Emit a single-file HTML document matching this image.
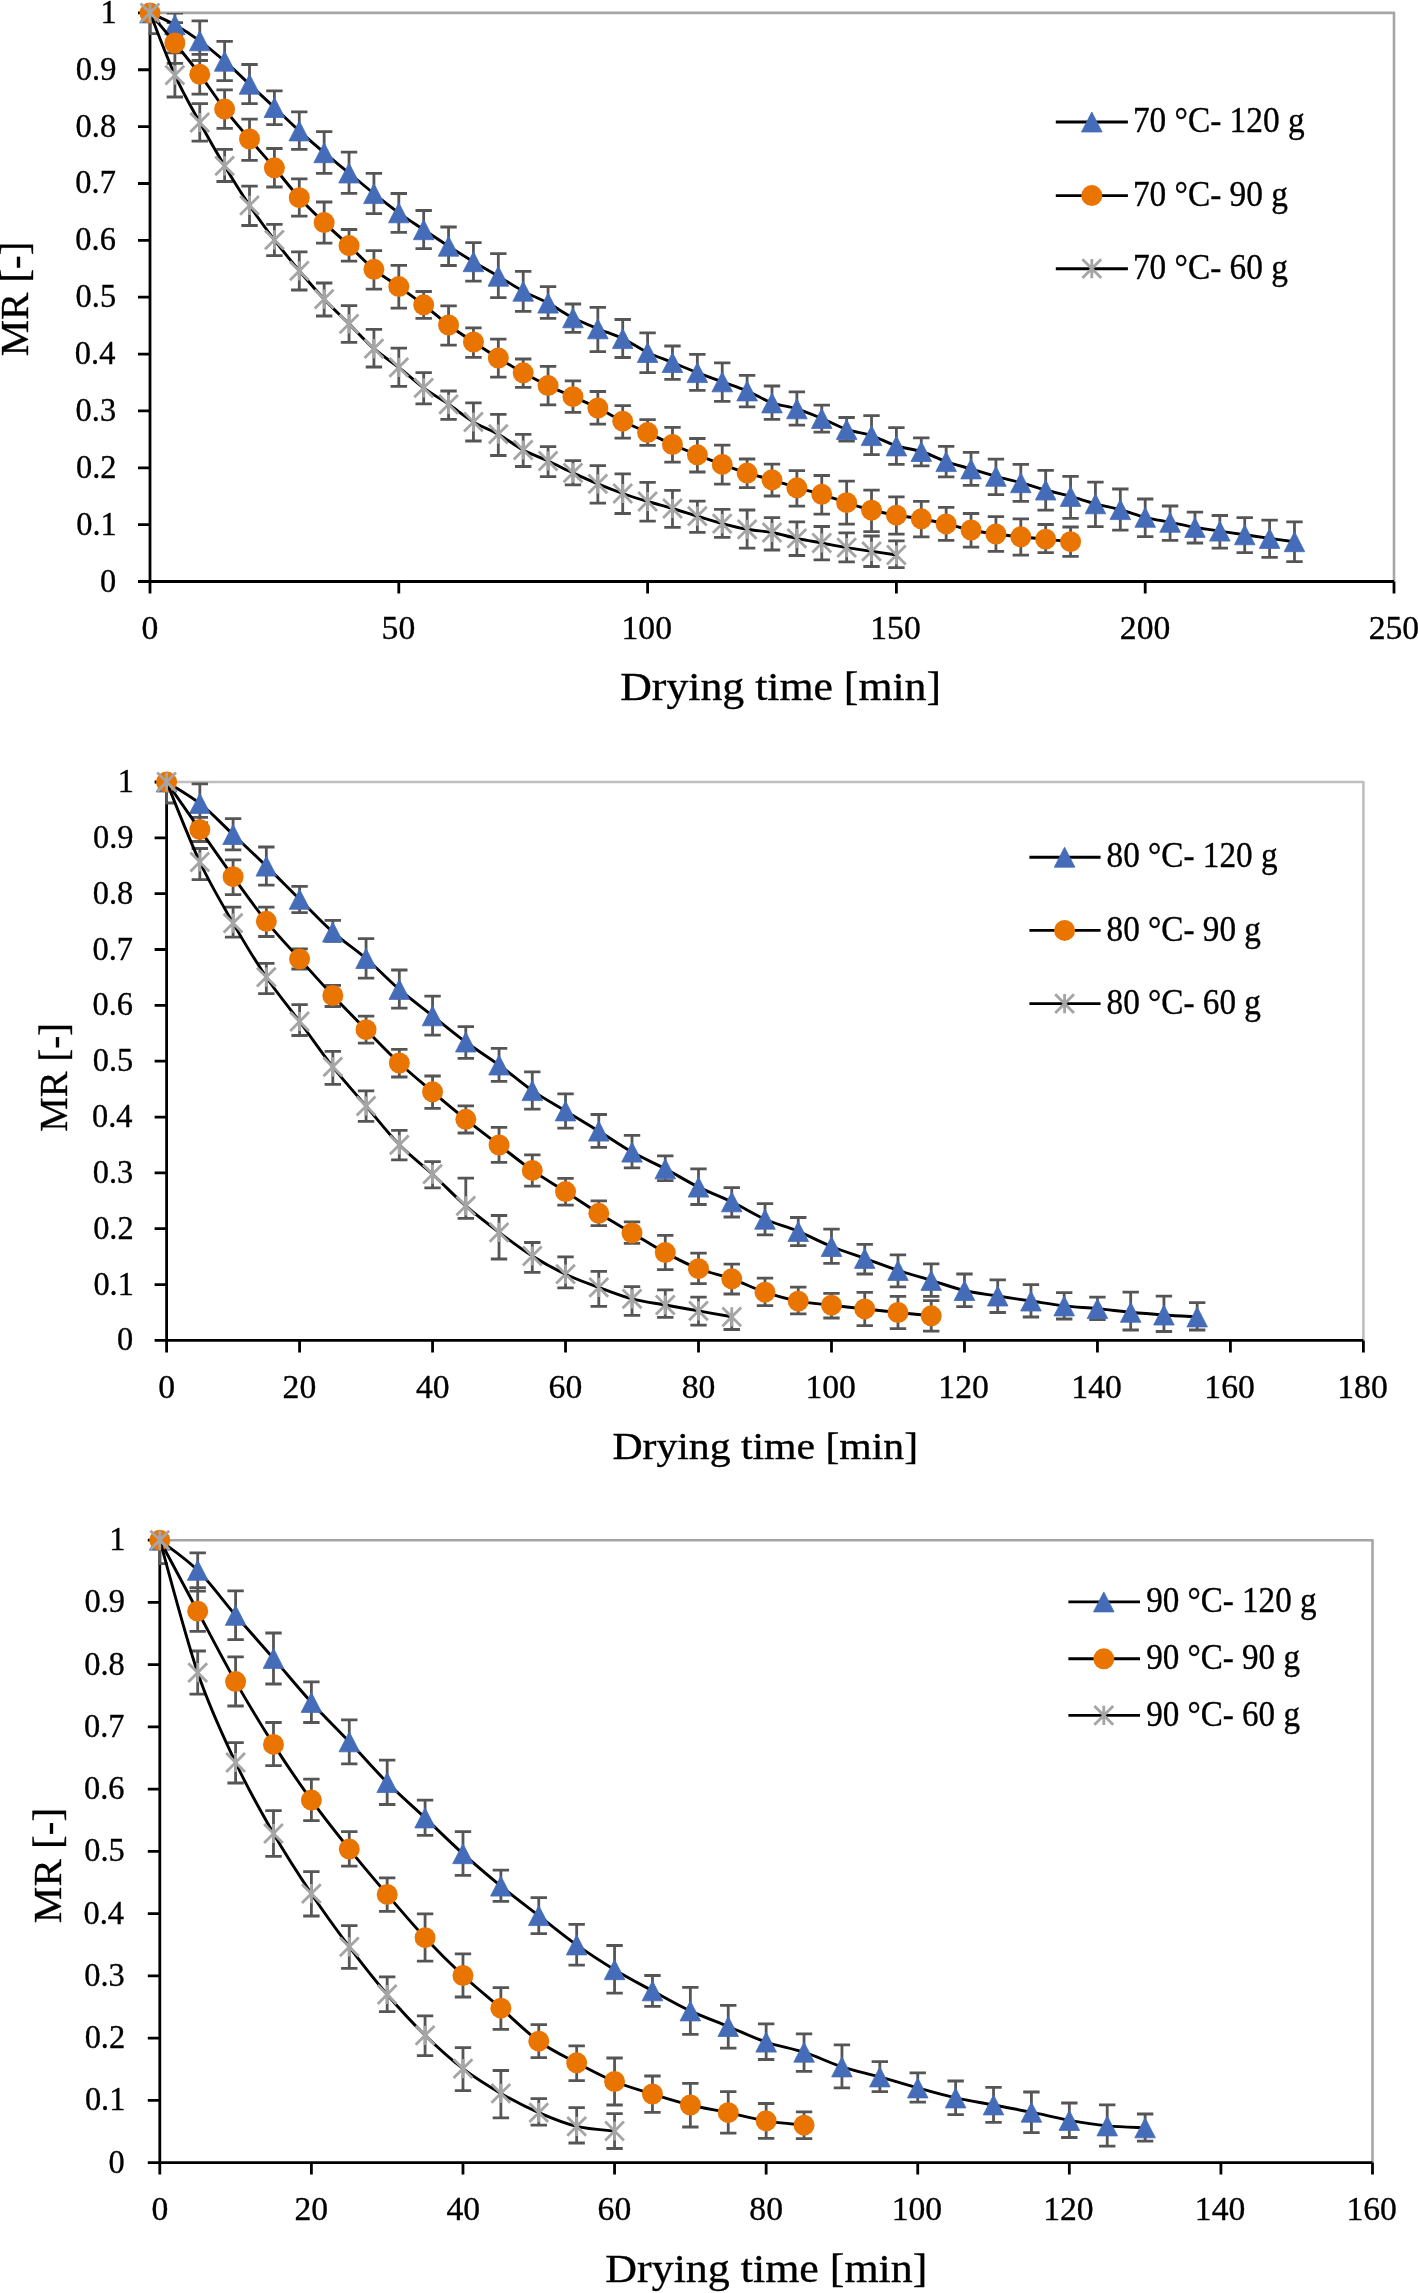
<!DOCTYPE html><html><head><meta charset="utf-8"><style>html,body{margin:0;padding:0;background:#fff;}svg{display:block;will-change:transform;}</style></head><body><svg width="1418" height="2293" viewBox="0 0 1418 2293"><rect width="1418" height="2293" fill="#fff"/><defs><clipPath id="pc0"><rect x="148.4" y="12.9" width="1245.6" height="568.6"/></clipPath></defs><path d="M150 12.9H1394V581.5" fill="none" stroke="#A6A6A6" stroke-width="2.6" stroke-linejoin="round"/><path d="M150 12.9V593.5M138 581.5H1394M138 581.5H150M138 524.64H150M138 467.78H150M138 410.92H150M138 354.06H150M138 297.2H150M138 240.34H150M138 183.48H150M138 126.62H150M138 69.76H150M138 12.9H150M150 581.5V593.5M398.8 581.5V593.5M647.6 581.5V593.5M896.4 581.5V593.5M1145.2 581.5V593.5M1394 581.5V593.5" fill="none" stroke="#000" stroke-width="2.8"/><g font-family="'Liberation Serif', serif" fill="#000" stroke="#000" stroke-width="0.35"><text transform="translate(99.89 591.5) scale(0.953 1)" font-size="34.0">0</text><text transform="translate(76.3 534.64) scale(0.953 1)" font-size="34.0">0.1</text><text transform="translate(76.07 477.78) scale(0.953 1)" font-size="34.0">0.2</text><text transform="translate(75.59 420.92) scale(0.953 1)" font-size="34.0">0.3</text><text transform="translate(74.87 364.06) scale(0.953 1)" font-size="34.0">0.4</text><text transform="translate(75.59 307.2) scale(0.953 1)" font-size="34.0">0.5</text><text transform="translate(75.35 250.34) scale(0.953 1)" font-size="34.0">0.6</text><text transform="translate(75.35 193.48) scale(0.953 1)" font-size="34.0">0.7</text><text transform="translate(75.59 136.62) scale(0.953 1)" font-size="34.0">0.8</text><text transform="translate(75.83 79.76) scale(0.953 1)" font-size="34.0">0.9</text><text transform="translate(100.61 22.9) scale(0.953 1)" font-size="34.0">1</text><text transform="translate(141.59 639.2) scale(0.99 1)" font-size="34.0">0</text><text transform="translate(381.6 639.2) scale(0.99 1)" font-size="34.0">50</text><text transform="translate(621.49 639.2) scale(0.99 1)" font-size="34.0">100</text><text transform="translate(870.29 639.2) scale(0.99 1)" font-size="34.0">150</text><text transform="translate(1119.83 639.2) scale(0.99 1)" font-size="34.0">200</text><text transform="translate(1368.63 639.2) scale(0.99 1)" font-size="34.0">250</text><text transform="translate(620.25 700) scale(1.0779 1)" font-size="40.6">Drying time [min]</text><text transform="translate(27.6 356.36) rotate(-90) scale(1.0073 1)" font-size="40.6">MR [-]</text><text transform="translate(1132.89 132.1) scale(0.9583 1)" font-size="34.8">70 °C- 120 g</text><text transform="translate(1132.89 205.7) scale(0.9583 1)" font-size="34.8">70 °C- 90 g</text><text transform="translate(1132.89 278.8) scale(0.9583 1)" font-size="34.8">70 °C- 60 g</text></g><path clip-path="url(#pc0)" d="M166.68 13H183.08M174.88 13V36.4M166.68 36.4H183.08M191.56 20.9H207.96M199.76 20.9V60.5M191.56 60.5H207.96M216.44 41.3H232.84M224.64 41.3V80.7M216.44 80.7H232.84M241.32 64.5H257.72M249.52 64.5V103.6M241.32 103.6H257.72M266.2 90.8H282.6M274.4 90.8V124.7M266.2 124.7H282.6M291.08 111.8H307.48M299.28 111.8V149.4M291.08 149.4H307.48M315.96 131.6H332.36M324.16 131.6V173.3M315.96 173.3H332.36M340.84 152.2H357.24M349.04 152.2V193.4M340.84 193.4H357.24M365.72 173.3H382.12M373.92 173.3V213.6M365.72 213.6H382.12M390.6 193.5H407M398.8 193.5V232.3M390.6 232.3H407M415.48 210.5H431.88M423.68 210.5V248.6M415.48 248.6H431.88M440.36 227H456.76M448.56 227V265.5M440.36 265.5H456.76M465.24 242.6H481.64M473.44 242.6V281.1M465.24 281.1H481.64M490.12 253.6H506.52M498.32 253.6V297.6M490.12 297.6H506.52M515 271.4H531.4M523.2 271.4V311.4M515 311.4H531.4M539.88 286.6H556.28M548.08 286.6V318.3M539.88 318.3H556.28M564.76 304H581.16M572.96 304V332.4M564.76 332.4H581.16M589.64 307.3H606.04M597.84 307.3V351.7M589.64 351.7H606.04M614.52 319.5H630.92M622.72 319.5V357.5M614.52 357.5H630.92M639.4 332.8H655.8M647.6 332.8V372.6M639.4 372.6H655.8M664.28 346H680.68M672.48 346V379.4M664.28 379.4H680.68M689.16 354.3H705.56M697.36 354.3V390.4M689.16 390.4H705.56M714.04 362.9H730.44M722.24 362.9V401.4M714.04 401.4H730.44M738.92 375.3H755.32M747.12 375.3V406.9M738.92 406.9H755.32M763.8 386H780.2M772 386V419.4M763.8 419.4H780.2M788.68 391.8H805.08M796.88 391.8V425.2M788.68 425.2H805.08M813.56 405.2H829.96M821.76 405.2V432.2M813.56 432.2H829.96M838.44 417.5H854.84M846.64 417.5V441M838.44 441H854.84M863.32 415.7H879.72M871.52 415.7V454.6M863.32 454.6H879.72M888.2 427.7H904.6M896.4 427.7V464.3M888.2 464.3H904.6M913.08 437.8H929.48M921.28 437.8V465.8M913.08 465.8H929.48M937.96 446.4H954.36M946.16 446.4V476.8M937.96 476.8H954.36M962.84 452.4H979.24M971.04 452.4V485.4M962.84 485.4H979.24M987.72 459.2H1004.12M995.92 459.2V494.6M987.72 494.6H1004.12M1012.6 464.3H1029M1020.8 464.3V501.4M1012.6 501.4H1029M1037.48 470.4H1053.88M1045.68 470.4V510.2M1037.48 510.2H1053.88M1062.36 476.3H1078.76M1070.56 476.3V518.4M1062.36 518.4H1078.76M1087.24 482.1H1103.64M1095.44 482.1V526.7M1087.24 526.7H1103.64M1112.12 489H1128.52M1120.32 489V530.1M1112.12 530.1H1128.52M1137 499H1153.4M1145.2 499V536.6M1137 536.6H1153.4M1161.88 506H1178.28M1170.08 506V540.3M1161.88 540.3H1178.28M1186.76 512.2H1203.16M1194.96 512.2V543M1186.76 543H1203.16M1211.64 515.5H1228.04M1219.84 515.5V548.2M1211.64 548.2H1228.04M1236.52 517.7H1252.92M1244.72 517.7V552.6M1236.52 552.6H1252.92M1261.4 520.1H1277.8M1269.6 520.1V557.3M1261.4 557.3H1277.8M1286.28 521.9H1302.68M1294.48 521.9V561.7M1286.28 561.7H1302.68M166.68 22.6H183.08M174.88 22.6V63.4M166.68 63.4H183.08M191.56 54.3H207.96M199.76 54.3V94.1M191.56 94.1H207.96M216.44 89.8H232.84M224.64 89.8V128.4M216.44 128.4H232.84M241.32 119.2H257.72M249.52 119.2V160.4M241.32 160.4H257.72M266.2 148.5H282.6M274.4 148.5V187M266.2 187H282.6M291.08 178.8H307.48M299.28 178.8V216.1M291.08 216.1H307.48M315.96 202H332.36M324.16 202V243.1M315.96 243.1H332.36M340.84 229.5H357.24M349.04 229.5V261.2M340.84 261.2H357.24M365.72 250.6H382.12M373.92 250.6V289.1M365.72 289.1H382.12M390.6 265.3H407M398.8 265.3V308.2M390.6 308.2H407M415.48 291.5H431.88M423.68 291.5V318.3M415.48 318.3H431.88M440.36 305.8H456.76M448.56 305.8V345.1M440.36 345.1H456.76M465.24 327.8H481.64M473.44 327.8V357.3M465.24 357.3H481.64M490.12 339.2H506.52M498.32 339.2V377.2M490.12 377.2H506.52M515 359H531.4M523.2 359V387.4M515 387.4H531.4M539.88 366.4H556.28M548.08 366.4V404.9M539.88 404.9H556.28M564.76 380.9H581.16M572.96 380.9V412.4M564.76 412.4H581.16M589.64 391.5H606.04M597.84 391.5V424.1M589.64 424.1H606.04M614.52 405.6H630.92M622.72 405.6V438.1M614.52 438.1H630.92M639.4 419.7H655.8M647.6 419.7V445.4M639.4 445.4H655.8M664.28 427.3H680.68M672.48 427.3V462.1M664.28 462.1H680.68M689.16 438.5H705.56M697.36 438.5V472M689.16 472H705.56M714.04 445.1H730.44M722.24 445.1V484.1M714.04 484.1H730.44M738.92 459H755.32M747.12 459V487.6M738.92 487.6H755.32M763.8 464.2H780.2M772 464.2V496M763.8 496H780.2M788.68 470.6H805.08M796.88 470.6V506.2M788.68 506.2H805.08M813.56 475.5H829.96M821.76 475.5V514.1M813.56 514.1H829.96M838.44 481.2H854.84M846.64 481.2V524.1M838.44 524.1H854.84M863.32 490.2H879.72M871.52 490.2V531.6M863.32 531.6H879.72M888.2 496.8H904.6M896.4 496.8V534.2M888.2 534.2H904.6M913.08 501.4H929.48M921.28 501.4V536.8M913.08 536.8H929.48M937.96 507.4H954.36M946.16 507.4V540.4M937.96 540.4H954.36M962.84 513.5H979.24M971.04 513.5V547.2M962.84 547.2H979.24M987.72 516.6H1004.12M995.92 516.6V551.4M987.72 551.4H1004.12M1012.6 518.8H1029M1020.8 518.8V555.1M1012.6 555.1H1029M1037.48 524.5H1053.88M1045.68 524.5V552.7M1037.48 552.7H1053.88M1062.36 527H1078.76M1070.56 527V556.4M1062.36 556.4H1078.76M166.68 52.9H183.08M174.88 52.9V97M166.68 97H183.08M191.56 103.6H207.96M199.76 103.6V141.2M191.56 141.2H207.96M216.44 149.4H232.84M224.64 149.4V181.5M216.44 181.5H232.84M241.32 186.1H257.72M249.52 186.1V225.5M241.32 225.5H257.72M266.2 224.3H282.6M274.4 224.3V255.6M266.2 255.6H282.6M291.08 251.9H307.48M299.28 251.9V290M291.08 290H307.48M315.96 283H332.36M324.16 283V316M315.96 316H332.36M340.84 305.6H357.24M349.04 305.6V342.3M340.84 342.3H357.24M365.72 329.4H382.12M373.92 329.4V367M365.72 367H382.12M390.6 348.1H407M398.8 348.1V386.4M390.6 386.4H407M415.48 372.6H431.88M423.68 372.6V403.8M415.48 403.8H431.88M440.36 391H456.76M448.56 391V419.3M440.36 419.3H456.76M465.24 402.8H481.64M473.44 402.8V441M465.24 441H481.64M490.12 414.3H506.52M498.32 414.3V455.5M490.12 455.5H506.52M515 434.4H531.4M523.2 434.4V466.5M515 466.5H531.4M539.88 446.7H556.28M548.08 446.7V476.6M539.88 476.6H556.28M564.76 460.6H581.16M572.96 460.6V484.9M564.76 484.9H581.16M589.64 465.6H606.04M597.84 465.6V503.2M589.64 503.2H606.04M614.52 473.9H630.92M622.72 473.9V513.5M614.52 513.5H630.92M639.4 482.3H655.8M647.6 482.3V521.1M639.4 521.1H655.8M664.28 490.4H680.68M672.48 490.4V527.4M664.28 527.4H680.68M689.16 501.1H705.56M697.36 501.1V532.4M689.16 532.4H705.56M714.04 509.3H730.44M722.24 509.3V537.4M714.04 537.4H730.44M738.92 510H755.32M747.12 510V548.2M738.92 548.2H755.32M763.8 517.7H780.2M772 517.7V550M763.8 550H780.2M788.68 521.9H805.08M796.88 521.9V555.5M788.68 555.5H805.08M813.56 526.5H829.96M821.76 526.5V559.9M813.56 559.9H829.96M838.44 532.9H854.84M846.64 532.9V561.9M838.44 561.9H854.84M863.32 536H879.72M871.52 536V566.5M863.32 566.5H879.72M888.2 540.9H904.6M896.4 540.9V567.6M888.2 567.6H904.6M150 -7.8V33.6M141.8 33.6H158.2" fill="none" stroke="#555555" stroke-width="2.8"/><path d="M150 12.9C154.15 14.87 166.59 20.05 174.88 24.7C183.17 29.35 191.47 34.72 199.76 40.8C208.05 46.88 216.35 53.97 224.64 61.2C232.93 68.43 241.23 76.48 249.52 84.2C257.81 91.92 266.11 99.72 274.4 107.5C282.69 115.28 290.99 123.37 299.28 130.9C307.57 138.43 315.87 145.68 324.16 152.7C332.45 159.72 340.75 166.18 349.04 173C357.33 179.82 365.63 186.97 373.92 193.6C382.21 200.23 390.51 206.78 398.8 212.8C407.09 218.82 415.39 224.13 423.68 229.7C431.97 235.27 440.27 240.87 448.56 246.2C456.85 251.53 465.15 256.7 473.44 261.7C481.73 266.7 490.03 271.28 498.32 276.2C506.61 281.12 514.91 286.72 523.2 291.2C531.49 295.68 539.79 298.67 548.08 303.1C556.37 307.53 564.67 313.52 572.96 317.8C581.25 322.08 589.55 325.33 597.84 328.8C606.13 332.27 614.43 334.65 622.72 338.6C631.01 342.55 639.31 348.52 647.6 352.5C655.89 356.48 664.19 359.15 672.48 362.5C680.77 365.85 689.07 369.38 697.36 372.6C705.65 375.82 713.95 378.75 722.24 381.8C730.53 384.85 738.83 387.38 747.12 390.9C755.41 394.42 763.71 399.92 772 402.9C780.29 405.88 788.59 406.22 796.88 408.8C805.17 411.38 813.47 414.97 821.76 418.4C830.05 421.83 838.35 426.53 846.64 429.4C854.93 432.27 863.23 432.85 871.52 435.6C879.81 438.35 888.11 443.25 896.4 445.9C904.69 448.55 912.99 448.88 921.28 451.5C929.57 454.12 937.87 458.7 946.16 461.6C954.45 464.5 962.75 466.45 971.04 468.9C979.33 471.35 987.63 474 995.92 476.3C1004.21 478.6 1012.51 480.42 1020.8 482.7C1029.09 484.98 1037.39 487.72 1045.68 490C1053.97 492.28 1062.27 494.1 1070.56 496.4C1078.85 498.7 1087.15 501.6 1095.44 503.8C1103.73 506 1112.03 507.35 1120.32 509.6C1128.61 511.85 1136.91 515.18 1145.2 517.3C1153.49 519.42 1161.79 520.62 1170.08 522.3C1178.37 523.98 1186.67 525.93 1194.96 527.4C1203.25 528.87 1211.55 529.87 1219.84 531.1C1228.13 532.33 1236.43 533.58 1244.72 534.8C1253.01 536.02 1261.31 537.25 1269.6 538.4C1277.89 539.55 1290.33 541.15 1294.48 541.7" fill="none" stroke="#000" stroke-width="2.9" stroke-linejoin="round"/><g fill="#446CB8" stroke="#446CB8" stroke-width="0.8" stroke-linejoin="round"><path d="M150 2.9L160.3 22.9L139.7 22.9Z"/><path d="M174.88 14.7L185.18 34.7L164.58 34.7Z"/><path d="M199.76 30.8L210.06 50.8L189.46 50.8Z"/><path d="M224.64 51.2L234.94 71.2L214.34 71.2Z"/><path d="M249.52 74.2L259.82 94.2L239.22 94.2Z"/><path d="M274.4 97.5L284.7 117.5L264.1 117.5Z"/><path d="M299.28 120.9L309.58 140.9L288.98 140.9Z"/><path d="M324.16 142.7L334.46 162.7L313.86 162.7Z"/><path d="M349.04 163L359.34 183L338.74 183Z"/><path d="M373.92 183.6L384.22 203.6L363.62 203.6Z"/><path d="M398.8 202.8L409.1 222.8L388.5 222.8Z"/><path d="M423.68 219.7L433.98 239.7L413.38 239.7Z"/><path d="M448.56 236.2L458.86 256.2L438.26 256.2Z"/><path d="M473.44 251.7L483.74 271.7L463.14 271.7Z"/><path d="M498.32 266.2L508.62 286.2L488.02 286.2Z"/><path d="M523.2 281.2L533.5 301.2L512.9 301.2Z"/><path d="M548.08 293.1L558.38 313.1L537.78 313.1Z"/><path d="M572.96 307.8L583.26 327.8L562.66 327.8Z"/><path d="M597.84 318.8L608.14 338.8L587.54 338.8Z"/><path d="M622.72 328.6L633.02 348.6L612.42 348.6Z"/><path d="M647.6 342.5L657.9 362.5L637.3 362.5Z"/><path d="M672.48 352.5L682.78 372.5L662.18 372.5Z"/><path d="M697.36 362.6L707.66 382.6L687.06 382.6Z"/><path d="M722.24 371.8L732.54 391.8L711.94 391.8Z"/><path d="M747.12 380.9L757.42 400.9L736.82 400.9Z"/><path d="M772 392.9L782.3 412.9L761.7 412.9Z"/><path d="M796.88 398.8L807.18 418.8L786.58 418.8Z"/><path d="M821.76 408.4L832.06 428.4L811.46 428.4Z"/><path d="M846.64 419.4L856.94 439.4L836.34 439.4Z"/><path d="M871.52 425.6L881.82 445.6L861.22 445.6Z"/><path d="M896.4 435.9L906.7 455.9L886.1 455.9Z"/><path d="M921.28 441.5L931.58 461.5L910.98 461.5Z"/><path d="M946.16 451.6L956.46 471.6L935.86 471.6Z"/><path d="M971.04 458.9L981.34 478.9L960.74 478.9Z"/><path d="M995.92 466.3L1006.22 486.3L985.62 486.3Z"/><path d="M1020.8 472.7L1031.1 492.7L1010.5 492.7Z"/><path d="M1045.68 480L1055.98 500L1035.38 500Z"/><path d="M1070.56 486.4L1080.86 506.4L1060.26 506.4Z"/><path d="M1095.44 493.8L1105.74 513.8L1085.14 513.8Z"/><path d="M1120.32 499.6L1130.62 519.6L1110.02 519.6Z"/><path d="M1145.2 507.3L1155.5 527.3L1134.9 527.3Z"/><path d="M1170.08 512.3L1180.38 532.3L1159.78 532.3Z"/><path d="M1194.96 517.4L1205.26 537.4L1184.66 537.4Z"/><path d="M1219.84 521.1L1230.14 541.1L1209.54 541.1Z"/><path d="M1244.72 524.8L1255.02 544.8L1234.42 544.8Z"/><path d="M1269.6 528.4L1279.9 548.4L1259.3 548.4Z"/><path d="M1294.48 531.7L1304.78 551.7L1284.18 551.7Z"/></g><path d="M150 12.9C154.15 17.92 166.59 32.77 174.88 43C183.17 53.23 191.47 63.28 199.76 74.3C208.05 85.32 216.35 98.32 224.64 109.1C232.93 119.88 241.23 129.22 249.52 139C257.81 148.78 266.11 158.02 274.4 167.8C282.69 177.58 290.99 188.57 299.28 197.7C307.57 206.83 315.87 214.62 324.16 222.6C332.45 230.58 340.75 237.82 349.04 245.6C357.33 253.38 365.63 262.47 373.92 269.3C382.21 276.13 390.51 280.68 398.8 286.6C407.09 292.52 415.39 298.4 423.68 304.8C431.97 311.2 440.27 318.8 448.56 325C456.85 331.2 465.15 336.5 473.44 342C481.73 347.5 490.03 352.87 498.32 358C506.61 363.13 514.91 368.2 523.2 372.8C531.49 377.4 539.79 381.62 548.08 385.6C556.37 389.58 564.67 392.97 572.96 396.7C581.25 400.43 589.55 403.92 597.84 408C606.13 412.08 614.43 417.1 622.72 421.2C631.01 425.3 639.31 428.72 647.6 432.6C655.89 436.48 664.19 440.8 672.48 444.5C680.77 448.2 689.07 451.48 697.36 454.8C705.65 458.12 713.95 461.35 722.24 464.4C730.53 467.45 738.83 470.53 747.12 473.1C755.41 475.67 763.71 477.35 772 479.8C780.29 482.25 788.59 485.38 796.88 487.8C805.17 490.22 813.47 491.82 821.76 494.3C830.05 496.78 838.35 500.05 846.64 502.7C854.93 505.35 863.23 508.12 871.52 510.2C879.81 512.28 888.11 513.77 896.4 515.2C904.69 516.63 912.99 517.35 921.28 518.8C929.57 520.25 937.87 522.03 946.16 523.9C954.45 525.77 962.75 528.32 971.04 530C979.33 531.68 987.63 532.87 995.92 534C1004.21 535.13 1012.51 535.93 1020.8 536.8C1029.09 537.67 1037.39 538.38 1045.68 539.2C1053.97 540.02 1066.41 541.28 1070.56 541.7" fill="none" stroke="#000" stroke-width="2.9" stroke-linejoin="round"/><g fill="#EA7400"><circle cx="150" cy="12.9" r="10.5"/><circle cx="174.88" cy="43" r="10.5"/><circle cx="199.76" cy="74.3" r="10.5"/><circle cx="224.64" cy="109.1" r="10.5"/><circle cx="249.52" cy="139" r="10.5"/><circle cx="274.4" cy="167.8" r="10.5"/><circle cx="299.28" cy="197.7" r="10.5"/><circle cx="324.16" cy="222.6" r="10.5"/><circle cx="349.04" cy="245.6" r="10.5"/><circle cx="373.92" cy="269.3" r="10.5"/><circle cx="398.8" cy="286.6" r="10.5"/><circle cx="423.68" cy="304.8" r="10.5"/><circle cx="448.56" cy="325" r="10.5"/><circle cx="473.44" cy="342" r="10.5"/><circle cx="498.32" cy="358" r="10.5"/><circle cx="523.2" cy="372.8" r="10.5"/><circle cx="548.08" cy="385.6" r="10.5"/><circle cx="572.96" cy="396.7" r="10.5"/><circle cx="597.84" cy="408" r="10.5"/><circle cx="622.72" cy="421.2" r="10.5"/><circle cx="647.6" cy="432.6" r="10.5"/><circle cx="672.48" cy="444.5" r="10.5"/><circle cx="697.36" cy="454.8" r="10.5"/><circle cx="722.24" cy="464.4" r="10.5"/><circle cx="747.12" cy="473.1" r="10.5"/><circle cx="772" cy="479.8" r="10.5"/><circle cx="796.88" cy="487.8" r="10.5"/><circle cx="821.76" cy="494.3" r="10.5"/><circle cx="846.64" cy="502.7" r="10.5"/><circle cx="871.52" cy="510.2" r="10.5"/><circle cx="896.4" cy="515.2" r="10.5"/><circle cx="921.28" cy="518.8" r="10.5"/><circle cx="946.16" cy="523.9" r="10.5"/><circle cx="971.04" cy="530" r="10.5"/><circle cx="995.92" cy="534" r="10.5"/><circle cx="1020.8" cy="536.8" r="10.5"/><circle cx="1045.68" cy="539.2" r="10.5"/><circle cx="1070.56" cy="541.7" r="10.5"/></g><path d="M150 12.9C154.15 23.27 166.59 56.83 174.88 75.1C183.17 93.37 191.47 107.37 199.76 122.5C208.05 137.63 216.35 152.08 224.64 165.9C232.93 179.72 241.23 193.07 249.52 205.4C257.81 217.73 266.11 229 274.4 239.9C282.69 250.8 290.99 260.92 299.28 270.8C307.57 280.68 315.87 290.35 324.16 299.2C332.45 308.05 340.75 315.65 349.04 323.9C357.33 332.15 365.63 341.45 373.92 348.7C382.21 355.95 390.51 360.88 398.8 367.4C407.09 373.92 415.39 381.65 423.68 387.8C431.97 393.95 440.27 398.6 448.56 404.3C456.85 410 465.15 417.02 473.44 422C481.73 426.98 490.03 429.53 498.32 434.2C506.61 438.87 514.91 445.53 523.2 450C531.49 454.47 539.79 457.18 548.08 461C556.37 464.82 564.67 469.08 572.96 472.9C581.25 476.72 589.55 480.47 597.84 483.9C606.13 487.33 614.43 490.57 622.72 493.5C631.01 496.43 639.31 499 647.6 501.5C655.89 504 664.19 506.05 672.48 508.5C680.77 510.95 689.07 513.68 697.36 516.2C705.65 518.72 713.95 521.42 722.24 523.6C730.53 525.78 738.83 527.82 747.12 529.3C755.41 530.78 763.71 530.98 772 532.5C780.29 534.02 788.59 536.65 796.88 538.4C805.17 540.15 813.47 541.47 821.76 543C830.05 544.53 838.35 546.22 846.64 547.6C854.93 548.98 863.23 550.07 871.52 551.3C879.81 552.53 892.25 554.38 896.4 555" fill="none" stroke="#000" stroke-width="2.9" stroke-linejoin="round"/><path d="M140.6 3.5L159.4 22.3M140.6 22.3L159.4 3.5M150 3.3L150 22.5M165.48 65.7L184.28 84.5M165.48 84.5L184.28 65.7M174.88 65.5L174.88 84.7M190.36 113.1L209.16 131.9M190.36 131.9L209.16 113.1M199.76 112.9L199.76 132.1M215.24 156.5L234.04 175.3M215.24 175.3L234.04 156.5M224.64 156.3L224.64 175.5M240.12 196L258.92 214.8M240.12 214.8L258.92 196M249.52 195.8L249.52 215M265 230.5L283.8 249.3M265 249.3L283.8 230.5M274.4 230.3L274.4 249.5M289.88 261.4L308.68 280.2M289.88 280.2L308.68 261.4M299.28 261.2L299.28 280.4M314.76 289.8L333.56 308.6M314.76 308.6L333.56 289.8M324.16 289.6L324.16 308.8M339.64 314.5L358.44 333.3M339.64 333.3L358.44 314.5M349.04 314.3L349.04 333.5M364.52 339.3L383.32 358.1M364.52 358.1L383.32 339.3M373.92 339.1L373.92 358.3M389.4 358L408.2 376.8M389.4 376.8L408.2 358M398.8 357.8L398.8 377M414.28 378.4L433.08 397.2M414.28 397.2L433.08 378.4M423.68 378.2L423.68 397.4M439.16 394.9L457.96 413.7M439.16 413.7L457.96 394.9M448.56 394.7L448.56 413.9M464.04 412.6L482.84 431.4M464.04 431.4L482.84 412.6M473.44 412.4L473.44 431.6M488.92 424.8L507.72 443.6M488.92 443.6L507.72 424.8M498.32 424.6L498.32 443.8M513.8 440.6L532.6 459.4M513.8 459.4L532.6 440.6M523.2 440.4L523.2 459.6M538.68 451.6L557.48 470.4M538.68 470.4L557.48 451.6M548.08 451.4L548.08 470.6M563.56 463.5L582.36 482.3M563.56 482.3L582.36 463.5M572.96 463.3L572.96 482.5M588.44 474.5L607.24 493.3M588.44 493.3L607.24 474.5M597.84 474.3L597.84 493.5M613.32 484.1L632.12 502.9M613.32 502.9L632.12 484.1M622.72 483.9L622.72 503.1M638.2 492.1L657 510.9M638.2 510.9L657 492.1M647.6 491.9L647.6 511.1M663.08 499.1L681.88 517.9M663.08 517.9L681.88 499.1M672.48 498.9L672.48 518.1M687.96 506.8L706.76 525.6M687.96 525.6L706.76 506.8M697.36 506.6L697.36 525.8M712.84 514.2L731.64 533M712.84 533L731.64 514.2M722.24 514L722.24 533.2M737.72 519.9L756.52 538.7M737.72 538.7L756.52 519.9M747.12 519.7L747.12 538.9M762.6 523.1L781.4 541.9M762.6 541.9L781.4 523.1M772 522.9L772 542.1M787.48 529L806.28 547.8M787.48 547.8L806.28 529M796.88 528.8L796.88 548M812.36 533.6L831.16 552.4M812.36 552.4L831.16 533.6M821.76 533.4L821.76 552.6M837.24 538.2L856.04 557M837.24 557L856.04 538.2M846.64 538L846.64 557.2M862.12 541.9L880.92 560.7M862.12 560.7L880.92 541.9M871.52 541.7L871.52 560.9M887 545.6L905.8 564.4M887 564.4L905.8 545.6M896.4 545.4L896.4 564.6" fill="none" stroke="#A5A5A5" stroke-width="2.85"/><path d="M1055.8 122H1127.9" stroke="#000" stroke-width="2.9"/><g fill="#446CB8" stroke="#446CB8" stroke-width="0.8" stroke-linejoin="round"><path d="M1091.8 112L1102.1 132L1081.5 132Z"/></g><path d="M1055.8 195.6H1127.9" stroke="#000" stroke-width="2.9"/><g fill="#EA7400"><circle cx="1091.8" cy="195.6" r="10.5"/></g><path d="M1055.8 268.7H1127.9" stroke="#000" stroke-width="2.9"/><path d="M1082.4 259.3L1101.2 278.1M1082.4 278.1L1101.2 259.3M1091.8 259.1L1091.8 278.3" fill="none" stroke="#A5A5A5" stroke-width="2.85"/><defs><clipPath id="pc1"><rect x="165" y="782" width="1198.4" height="558.4"/></clipPath></defs><path d="M166.6 782H1363.4V1340.4" fill="none" stroke="#BFBFBF" stroke-width="2.6" stroke-linejoin="round"/><path d="M166.6 782V1352.4M154.6 1340.4H1363.4M154.6 1340.4H166.6M154.6 1284.56H166.6M154.6 1228.72H166.6M154.6 1172.88H166.6M154.6 1117.04H166.6M154.6 1061.2H166.6M154.6 1005.36H166.6M154.6 949.52H166.6M154.6 893.68H166.6M154.6 837.84H166.6M154.6 782H166.6M166.6 1340.4V1352.4M299.58 1340.4V1352.4M432.56 1340.4V1352.4M565.53 1340.4V1352.4M698.51 1340.4V1352.4M831.49 1340.4V1352.4M964.47 1340.4V1352.4M1097.44 1340.4V1352.4M1230.42 1340.4V1352.4M1363.4 1340.4V1352.4" fill="none" stroke="#000" stroke-width="2.8"/><g font-family="'Liberation Serif', serif" fill="#000" stroke="#000" stroke-width="0.35"><text transform="translate(116.99 1350.4) scale(0.953 1)" font-size="34.0">0</text><text transform="translate(93.4 1294.56) scale(0.953 1)" font-size="34.0">0.1</text><text transform="translate(93.17 1238.72) scale(0.953 1)" font-size="34.0">0.2</text><text transform="translate(92.69 1182.88) scale(0.953 1)" font-size="34.0">0.3</text><text transform="translate(91.97 1127.04) scale(0.953 1)" font-size="34.0">0.4</text><text transform="translate(92.69 1071.2) scale(0.953 1)" font-size="34.0">0.5</text><text transform="translate(92.45 1015.36) scale(0.953 1)" font-size="34.0">0.6</text><text transform="translate(92.45 959.52) scale(0.953 1)" font-size="34.0">0.7</text><text transform="translate(92.69 903.68) scale(0.953 1)" font-size="34.0">0.8</text><text transform="translate(92.93 847.84) scale(0.953 1)" font-size="34.0">0.9</text><text transform="translate(117.7 792) scale(0.953 1)" font-size="34.0">1</text><text transform="translate(158.19 1398) scale(0.99 1)" font-size="34.0">0</text><text transform="translate(282.62 1398) scale(0.99 1)" font-size="34.0">20</text><text transform="translate(415.97 1398) scale(0.99 1)" font-size="34.0">40</text><text transform="translate(548.58 1398) scale(0.99 1)" font-size="34.0">60</text><text transform="translate(681.68 1398) scale(0.99 1)" font-size="34.0">80</text><text transform="translate(805.38 1398) scale(0.99 1)" font-size="34.0">100</text><text transform="translate(938.36 1398) scale(0.99 1)" font-size="34.0">120</text><text transform="translate(1071.33 1398) scale(0.99 1)" font-size="34.0">140</text><text transform="translate(1204.31 1398) scale(0.99 1)" font-size="34.0">160</text><text transform="translate(1337.29 1398) scale(0.99 1)" font-size="34.0">180</text><text transform="translate(612.4 1458.5) scale(1.0977 1)" font-size="38.0">Drying time [min]</text><text transform="translate(66.6 1131.71) rotate(-90) scale(0.9694 1)" font-size="40.0">MR [-]</text><text transform="translate(1106.61 867.3) scale(0.9540 1)" font-size="34.8">80 °C- 120 g</text><text transform="translate(1106.61 940.5) scale(0.9540 1)" font-size="34.8">80 °C- 90 g</text><text transform="translate(1106.61 1013.7) scale(0.9540 1)" font-size="34.8">80 °C- 60 g</text></g><path clip-path="url(#pc1)" d="M191.64 783.8H208.04M199.84 783.8V823M191.64 823H208.04M224.89 818.6H241.29M233.09 818.6V849.8M224.89 849.8H241.29M258.13 847H274.53M266.33 847V885.1M258.13 885.1H274.53M291.38 886.4H307.78M299.58 886.4V912.7M291.38 912.7H307.78M324.62 920.4H341.02M332.82 920.4V941.4M324.62 941.4H341.02M357.87 938.7H374.27M366.07 938.7V978.1M357.87 978.1H374.27M391.11 970H407.51M399.31 970V1008.2M391.11 1008.2H407.51M424.36 996.1H440.76M432.56 996.1V1035.1M424.36 1035.1H440.76M457.6 1026.7H474M465.8 1026.7V1058.4M457.6 1058.4H474M490.84 1048.4H507.24M499.04 1048.4V1081.4M490.84 1081.4H507.24M524.09 1071.8H540.49M532.29 1071.8V1109.2M524.09 1109.2H540.49M557.33 1093.8H573.73M565.53 1093.8V1128.1M557.33 1128.1H573.73M590.58 1114.5H606.98M598.78 1114.5V1147.3M590.58 1147.3H606.98M623.82 1135.3H640.22M632.02 1135.3V1167.8M623.82 1167.8H640.22M657.07 1155.9H673.47M665.27 1155.9V1180.7M657.07 1180.7H673.47M690.31 1168.8H706.71M698.51 1168.8V1204.5M690.31 1204.5H706.71M723.56 1187.6H739.96M731.76 1187.6V1217M723.56 1217H739.96M756.8 1203.6H773.2M765 1203.6V1234.8M756.8 1234.8H773.2M790.04 1217.5H806.44M798.24 1217.5V1245.7M790.04 1245.7H806.44M823.29 1229.1H839.69M831.49 1229.1V1263.4M823.29 1263.4H839.69M856.53 1244.3H872.93M864.73 1244.3V1274M856.53 1274H872.93M889.78 1254.8H906.18M897.98 1254.8V1286.9M889.78 1286.9H906.18M923.02 1263.9H939.42M931.22 1263.9V1296.4M923.02 1296.4H939.42M956.27 1274H972.67M964.47 1274V1306.7M956.27 1306.7H972.67M989.51 1279.9H1005.91M997.71 1279.9V1312.5M989.51 1312.5H1005.91M1022.76 1284.7H1039.16M1030.96 1284.7V1317M1022.76 1317H1039.16M1056 1292.7H1072.4M1064.2 1292.7V1319M1056 1319H1072.4M1089.24 1297.1H1105.64M1097.44 1297.1V1319.6M1089.24 1319.6H1105.64M1122.49 1292.1H1138.89M1130.69 1292.1V1330M1122.49 1330H1138.89M1155.73 1296.1H1172.13M1163.93 1296.1V1331.5M1155.73 1331.5H1172.13M1188.98 1302.6H1205.38M1197.18 1302.6V1330M1188.98 1330H1205.38M191.64 817.3H208.04M199.84 817.3V841.5M191.64 841.5H208.04M224.89 859.8H241.29M233.09 859.8V894.7M224.89 894.7H241.29M258.13 907.2H274.53M266.33 907.2V936.5M258.13 936.5H274.53M291.38 948.8H307.78M299.58 948.8V969M291.38 969H307.78M324.62 985.4H341.02M332.82 985.4V1006.5M324.62 1006.5H341.02M357.87 1016.1H374.27M366.07 1016.1V1043.1M357.87 1043.1H374.27M391.11 1049.4H407.51M399.31 1049.4V1077M391.11 1077H407.51M424.36 1076H440.76M432.56 1076V1108.3M424.36 1108.3H440.76M457.6 1105.8H474M465.8 1105.8V1133M457.6 1133H474M490.84 1127.3H507.24M499.04 1127.3V1162.3M490.84 1162.3H507.24M524.09 1154.8H540.49M532.29 1154.8V1186.1M524.09 1186.1H540.49M557.33 1178.3H573.73M565.53 1178.3V1205.1M557.33 1205.1H573.73M590.58 1200.8H606.98M598.78 1200.8V1225.6M590.58 1225.6H606.98M623.82 1221.9H640.22M632.02 1221.9V1243.4M623.82 1243.4H640.22M657.07 1235.3H673.47M665.27 1235.3V1269.6M657.07 1269.6H673.47M690.31 1253.1H706.71M698.51 1253.1V1283.7M690.31 1283.7H706.71M723.56 1264.1H739.96M731.76 1264.1V1294M723.56 1294H739.96M756.8 1278.2H773.2M765 1278.2V1305.7M756.8 1305.7H773.2M790.04 1287.1H806.44M798.24 1287.1V1313.8M790.04 1313.8H806.44M823.29 1293.3H839.69M831.49 1293.3V1318M823.29 1318H839.69M856.53 1292.4H872.93M864.73 1292.4V1325.7M856.53 1325.7H872.93M889.78 1296.4H906.18M897.98 1296.4V1328.7M889.78 1328.7H906.18M923.02 1300.6H939.42M931.22 1300.6V1331.2M923.02 1331.2H939.42M191.64 848.5H208.04M199.84 848.5V879.6M191.64 879.6H208.04M224.89 907.2H241.29M233.09 907.2V937.2M224.89 937.2H241.29M258.13 963.4H274.53M266.33 963.4V993.7M258.13 993.7H274.53M291.38 1004.6H307.78M299.58 1004.6V1035.5M291.38 1035.5H307.78M324.62 1051.3H341.02M332.82 1051.3V1084.3M324.62 1084.3H341.02M357.87 1090.8H374.27M366.07 1090.8V1121.4M357.87 1121.4H374.27M391.11 1130.3H407.51M399.31 1130.3V1159.9M391.11 1159.9H407.51M424.36 1161.7H440.76M432.56 1161.7V1187.9M424.36 1187.9H440.76M457.6 1178.1H474M465.8 1178.1V1218.4M457.6 1218.4H474M490.84 1215.5H507.24M499.04 1215.5V1259M490.84 1259H507.24M524.09 1242.5H540.49M532.29 1242.5V1272.3M524.09 1272.3H540.49M557.33 1256.8H573.73M565.53 1256.8V1287.9M557.33 1287.9H573.73M590.58 1271.4H606.98M598.78 1271.4V1306.3M590.58 1306.3H606.98M623.82 1286.7H640.22M632.02 1286.7V1315.4M623.82 1315.4H640.22M657.07 1289.8H673.47M665.27 1289.8V1317.3M657.07 1317.3H673.47M690.31 1297.1H706.71M698.51 1297.1V1325.2M690.31 1325.2H706.71M731.76 1316.8V1329.5M723.56 1329.5H739.96M166.6 761V803M158.4 803H174.8" fill="none" stroke="#555555" stroke-width="2.8"/><path d="M166.6 782C172.14 785.57 188.76 794.65 199.84 803.4C210.93 812.15 222.01 824.05 233.09 834.5C244.17 844.95 255.25 855.3 266.33 866.1C277.41 876.9 288.5 888.3 299.58 899.3C310.66 910.3 321.74 922.23 332.82 932.1C343.9 941.97 354.99 948.95 366.07 958.5C377.15 968.05 388.23 979.85 399.31 989.4C410.39 998.95 421.47 1007.03 432.56 1015.8C443.64 1024.57 454.72 1033.8 465.8 1042C476.88 1050.2 487.96 1056.9 499.04 1065C510.13 1073.1 521.21 1082.95 532.29 1090.6C543.37 1098.25 554.45 1104.15 565.53 1110.9C576.61 1117.65 587.7 1124.23 598.78 1131.1C609.86 1137.97 620.94 1145.82 632.02 1152.1C643.1 1158.38 654.19 1162.97 665.27 1168.8C676.35 1174.63 687.43 1181.6 698.51 1187.1C709.59 1192.6 720.67 1196.45 731.76 1201.8C742.84 1207.15 753.92 1214.27 765 1219.2C776.08 1224.13 787.16 1226.85 798.24 1231.4C809.33 1235.95 820.41 1242 831.49 1246.5C842.57 1251 853.65 1254.42 864.73 1258.4C875.81 1262.38 886.9 1266.73 897.98 1270.4C909.06 1274.07 920.14 1277.05 931.22 1280.4C942.3 1283.75 953.39 1287.9 964.47 1290.5C975.55 1293.1 986.63 1294.25 997.71 1296C1008.79 1297.75 1019.87 1299.35 1030.96 1301C1042.04 1302.65 1053.12 1304.63 1064.2 1305.9C1075.28 1307.17 1086.36 1307.53 1097.44 1308.6C1108.53 1309.67 1119.61 1311.23 1130.69 1312.3C1141.77 1313.37 1152.85 1314.23 1163.93 1315C1175.01 1315.77 1191.64 1316.58 1197.18 1316.9" fill="none" stroke="#000" stroke-width="2.9" stroke-linejoin="round"/><g fill="#446CB8" stroke="#446CB8" stroke-width="0.8" stroke-linejoin="round"><path d="M166.6 772L176.9 792L156.3 792Z"/><path d="M199.84 793.4L210.14 813.4L189.54 813.4Z"/><path d="M233.09 824.5L243.39 844.5L222.79 844.5Z"/><path d="M266.33 856.1L276.63 876.1L256.03 876.1Z"/><path d="M299.58 889.3L309.88 909.3L289.28 909.3Z"/><path d="M332.82 922.1L343.12 942.1L322.52 942.1Z"/><path d="M366.07 948.5L376.37 968.5L355.77 968.5Z"/><path d="M399.31 979.4L409.61 999.4L389.01 999.4Z"/><path d="M432.56 1005.8L442.86 1025.8L422.26 1025.8Z"/><path d="M465.8 1032L476.1 1052L455.5 1052Z"/><path d="M499.04 1055L509.34 1075L488.74 1075Z"/><path d="M532.29 1080.6L542.59 1100.6L521.99 1100.6Z"/><path d="M565.53 1100.9L575.83 1120.9L555.23 1120.9Z"/><path d="M598.78 1121.1L609.08 1141.1L588.48 1141.1Z"/><path d="M632.02 1142.1L642.32 1162.1L621.72 1162.1Z"/><path d="M665.27 1158.8L675.57 1178.8L654.97 1178.8Z"/><path d="M698.51 1177.1L708.81 1197.1L688.21 1197.1Z"/><path d="M731.76 1191.8L742.06 1211.8L721.46 1211.8Z"/><path d="M765 1209.2L775.3 1229.2L754.7 1229.2Z"/><path d="M798.24 1221.4L808.54 1241.4L787.94 1241.4Z"/><path d="M831.49 1236.5L841.79 1256.5L821.19 1256.5Z"/><path d="M864.73 1248.4L875.03 1268.4L854.43 1268.4Z"/><path d="M897.98 1260.4L908.28 1280.4L887.68 1280.4Z"/><path d="M931.22 1270.4L941.52 1290.4L920.92 1290.4Z"/><path d="M964.47 1280.5L974.77 1300.5L954.17 1300.5Z"/><path d="M997.71 1286L1008.01 1306L987.41 1306Z"/><path d="M1030.96 1291L1041.26 1311L1020.66 1311Z"/><path d="M1064.2 1295.9L1074.5 1315.9L1053.9 1315.9Z"/><path d="M1097.44 1298.6L1107.74 1318.6L1087.14 1318.6Z"/><path d="M1130.69 1302.3L1140.99 1322.3L1120.39 1322.3Z"/><path d="M1163.93 1305L1174.23 1325L1153.63 1325Z"/><path d="M1197.18 1306.9L1207.48 1326.9L1186.88 1326.9Z"/></g><path d="M166.6 782C172.14 789.93 188.76 813.82 199.84 829.6C210.93 845.38 222.01 861.42 233.09 876.7C244.17 891.98 255.25 907.6 266.33 921.3C277.41 935 288.5 946.53 299.58 958.9C310.66 971.27 321.74 983.7 332.82 995.5C343.9 1007.3 354.99 1018.45 366.07 1029.7C377.15 1040.95 388.23 1052.65 399.31 1063C410.39 1073.35 421.47 1082.42 432.56 1091.8C443.64 1101.18 454.72 1110.43 465.8 1119.3C476.88 1128.17 487.96 1136.48 499.04 1145C510.13 1153.52 521.21 1162.63 532.29 1170.4C543.37 1178.17 554.45 1184.45 565.53 1191.6C576.61 1198.75 587.7 1206.42 598.78 1213.3C609.86 1220.18 620.94 1226.35 632.02 1232.9C643.1 1239.45 654.19 1246.63 665.27 1252.6C676.35 1258.57 687.43 1264.33 698.51 1268.7C709.59 1273.07 720.67 1274.88 731.76 1278.8C742.84 1282.72 753.92 1288.47 765 1292.2C776.08 1295.93 787.16 1299.03 798.24 1301.2C809.33 1303.37 820.41 1303.92 831.49 1305.2C842.57 1306.48 853.65 1307.68 864.73 1308.9C875.81 1310.12 886.9 1311.35 897.98 1312.5C909.06 1313.65 925.68 1315.25 931.22 1315.8" fill="none" stroke="#000" stroke-width="2.9" stroke-linejoin="round"/><g fill="#EA7400"><circle cx="166.6" cy="782" r="10.5"/><circle cx="199.84" cy="829.6" r="10.5"/><circle cx="233.09" cy="876.7" r="10.5"/><circle cx="266.33" cy="921.3" r="10.5"/><circle cx="299.58" cy="958.9" r="10.5"/><circle cx="332.82" cy="995.5" r="10.5"/><circle cx="366.07" cy="1029.7" r="10.5"/><circle cx="399.31" cy="1063" r="10.5"/><circle cx="432.56" cy="1091.8" r="10.5"/><circle cx="465.8" cy="1119.3" r="10.5"/><circle cx="499.04" cy="1145" r="10.5"/><circle cx="532.29" cy="1170.4" r="10.5"/><circle cx="565.53" cy="1191.6" r="10.5"/><circle cx="598.78" cy="1213.3" r="10.5"/><circle cx="632.02" cy="1232.9" r="10.5"/><circle cx="665.27" cy="1252.6" r="10.5"/><circle cx="698.51" cy="1268.7" r="10.5"/><circle cx="731.76" cy="1278.8" r="10.5"/><circle cx="765" cy="1292.2" r="10.5"/><circle cx="798.24" cy="1301.2" r="10.5"/><circle cx="831.49" cy="1305.2" r="10.5"/><circle cx="864.73" cy="1308.9" r="10.5"/><circle cx="897.98" cy="1312.5" r="10.5"/><circle cx="931.22" cy="1315.8" r="10.5"/></g><path d="M166.6 782C172.14 795.33 188.76 838.48 199.84 862C210.93 885.52 222.01 903.9 233.09 923.1C244.17 942.3 255.25 960.8 266.33 977.2C277.41 993.6 288.5 1006.55 299.58 1021.5C310.66 1036.45 321.74 1052.82 332.82 1066.9C343.9 1080.98 354.99 1093.02 366.07 1106C377.15 1118.98 388.23 1133.43 399.31 1144.8C410.39 1156.17 421.47 1164.02 432.56 1174.2C443.64 1184.38 454.72 1196.22 465.8 1205.9C476.88 1215.58 487.96 1223.95 499.04 1232.3C510.13 1240.65 521.21 1249.02 532.29 1256C543.37 1262.98 554.45 1268.97 565.53 1274.2C576.61 1279.43 587.7 1283.28 598.78 1287.4C609.86 1291.52 620.94 1295.97 632.02 1298.9C643.1 1301.83 654.19 1303 665.27 1305C676.35 1307 687.43 1308.93 698.51 1310.9C709.59 1312.87 726.21 1315.82 731.76 1316.8" fill="none" stroke="#000" stroke-width="2.9" stroke-linejoin="round"/><path d="M157.2 772.6L176 791.4M157.2 791.4L176 772.6M166.6 772.4L166.6 791.6M190.44 852.6L209.24 871.4M190.44 871.4L209.24 852.6M199.84 852.4L199.84 871.6M223.69 913.7L242.49 932.5M223.69 932.5L242.49 913.7M233.09 913.5L233.09 932.7M256.93 967.8L275.73 986.6M256.93 986.6L275.73 967.8M266.33 967.6L266.33 986.8M290.18 1012.1L308.98 1030.9M290.18 1030.9L308.98 1012.1M299.58 1011.9L299.58 1031.1M323.42 1057.5L342.22 1076.3M323.42 1076.3L342.22 1057.5M332.82 1057.3L332.82 1076.5M356.67 1096.6L375.47 1115.4M356.67 1115.4L375.47 1096.6M366.07 1096.4L366.07 1115.6M389.91 1135.4L408.71 1154.2M389.91 1154.2L408.71 1135.4M399.31 1135.2L399.31 1154.4M423.16 1164.8L441.96 1183.6M423.16 1183.6L441.96 1164.8M432.56 1164.6L432.56 1183.8M456.4 1196.5L475.2 1215.3M456.4 1215.3L475.2 1196.5M465.8 1196.3L465.8 1215.5M489.64 1222.9L508.44 1241.7M489.64 1241.7L508.44 1222.9M499.04 1222.7L499.04 1241.9M522.89 1246.6L541.69 1265.4M522.89 1265.4L541.69 1246.6M532.29 1246.4L532.29 1265.6M556.13 1264.8L574.93 1283.6M556.13 1283.6L574.93 1264.8M565.53 1264.6L565.53 1283.8M589.38 1278L608.18 1296.8M589.38 1296.8L608.18 1278M598.78 1277.8L598.78 1297M622.62 1289.5L641.42 1308.3M622.62 1308.3L641.42 1289.5M632.02 1289.3L632.02 1308.5M655.87 1295.6L674.67 1314.4M655.87 1314.4L674.67 1295.6M665.27 1295.4L665.27 1314.6M689.11 1301.5L707.91 1320.3M689.11 1320.3L707.91 1301.5M698.51 1301.3L698.51 1320.5M722.36 1307.4L741.16 1326.2M722.36 1326.2L741.16 1307.4M731.76 1307.2L731.76 1326.4" fill="none" stroke="#A5A5A5" stroke-width="2.85"/><path d="M1029.4 857.2H1100.6" stroke="#000" stroke-width="2.9"/><g fill="#446CB8" stroke="#446CB8" stroke-width="0.8" stroke-linejoin="round"><path d="M1064.6 847.2L1074.9 867.2L1054.3 867.2Z"/></g><path d="M1029.4 930.4H1100.6" stroke="#000" stroke-width="2.9"/><g fill="#EA7400"><circle cx="1064.6" cy="930.4" r="10.5"/></g><path d="M1029.4 1003.6H1100.6" stroke="#000" stroke-width="2.9"/><path d="M1055.2 994.2L1074 1013M1055.2 1013L1074 994.2M1064.6 994L1064.6 1013.2" fill="none" stroke="#A5A5A5" stroke-width="2.85"/><defs><clipPath id="pc2"><rect x="158.2" y="1540.2" width="1214.3" height="622.4"/></clipPath></defs><path d="M159.8 1540.2H1372.5V2162.6" fill="none" stroke="#A6A6A6" stroke-width="2.6" stroke-linejoin="round"/><path d="M159.8 1540.2V2174.6M147.8 2162.6H1372.5M147.8 2162.6H159.8M147.8 2100.36H159.8M147.8 2038.12H159.8M147.8 1975.88H159.8M147.8 1913.64H159.8M147.8 1851.4H159.8M147.8 1789.16H159.8M147.8 1726.92H159.8M147.8 1664.68H159.8M147.8 1602.44H159.8M147.8 1540.2H159.8M159.8 2162.6V2174.6M311.39 2162.6V2174.6M462.98 2162.6V2174.6M614.56 2162.6V2174.6M766.15 2162.6V2174.6M917.74 2162.6V2174.6M1069.33 2162.6V2174.6M1220.91 2162.6V2174.6M1372.5 2162.6V2174.6" fill="none" stroke="#000" stroke-width="2.8"/><g font-family="'Liberation Serif', serif" fill="#000" stroke="#000" stroke-width="0.35"><text transform="translate(108.49 2172.6) scale(0.953 1)" font-size="34.0">0</text><text transform="translate(84.9 2110.36) scale(0.953 1)" font-size="34.0">0.1</text><text transform="translate(84.67 2048.12) scale(0.953 1)" font-size="34.0">0.2</text><text transform="translate(84.19 1985.88) scale(0.953 1)" font-size="34.0">0.3</text><text transform="translate(83.47 1923.64) scale(0.953 1)" font-size="34.0">0.4</text><text transform="translate(84.19 1861.4) scale(0.953 1)" font-size="34.0">0.5</text><text transform="translate(83.95 1799.16) scale(0.953 1)" font-size="34.0">0.6</text><text transform="translate(83.95 1736.92) scale(0.953 1)" font-size="34.0">0.7</text><text transform="translate(84.19 1674.68) scale(0.953 1)" font-size="34.0">0.8</text><text transform="translate(84.43 1612.44) scale(0.953 1)" font-size="34.0">0.9</text><text transform="translate(109.2 1550.2) scale(0.953 1)" font-size="34.0">1</text><text transform="translate(151.39 2219.8) scale(0.99 1)" font-size="34.0">0</text><text transform="translate(294.43 2219.8) scale(0.99 1)" font-size="34.0">20</text><text transform="translate(446.39 2219.8) scale(0.99 1)" font-size="34.0">40</text><text transform="translate(597.61 2219.8) scale(0.99 1)" font-size="34.0">60</text><text transform="translate(749.32 2219.8) scale(0.99 1)" font-size="34.0">80</text><text transform="translate(891.63 2219.8) scale(0.99 1)" font-size="34.0">100</text><text transform="translate(1043.21 2219.8) scale(0.99 1)" font-size="34.0">120</text><text transform="translate(1194.8 2219.8) scale(0.99 1)" font-size="34.0">140</text><text transform="translate(1346.39 2219.8) scale(0.99 1)" font-size="34.0">160</text><text transform="translate(605.35 2282.3) scale(1.0820 1)" font-size="40.6">Drying time [min]</text><text transform="translate(61.2 1923.15) rotate(-90) scale(1.0023 1)" font-size="41.0">MR [-]</text><text transform="translate(1146.15 1612) scale(0.9510 1)" font-size="34.8">90 °C- 120 g</text><text transform="translate(1146.15 1668.9) scale(0.9510 1)" font-size="34.8">90 °C- 90 g</text><text transform="translate(1146.15 1725.5) scale(0.9510 1)" font-size="34.8">90 °C- 60 g</text></g><path clip-path="url(#pc2)" d="M189.5 1552.9H205.9M197.7 1552.9V1591.2M189.5 1591.2H205.9M227.39 1590.9H243.79M235.59 1590.9V1639.6M227.39 1639.6H243.79M265.29 1633H281.69M273.49 1633V1684M265.29 1684H281.69M303.19 1681.8H319.59M311.39 1681.8V1722.5M303.19 1722.5H319.59M341.08 1719.8H357.48M349.28 1719.8V1763.8M341.08 1763.8H357.48M378.98 1760.2H395.38M387.18 1760.2V1804.5M378.98 1804.5H395.38M416.88 1800.1H433.28M425.08 1800.1V1835.3M416.88 1835.3H433.28M454.78 1831.7H471.18M462.98 1831.7V1875.3M454.78 1875.3H471.18M492.67 1870.2H509.07M500.87 1870.2V1901.4M492.67 1901.4H509.07M530.57 1897.6H546.97M538.77 1897.6V1933.6M530.57 1933.6H546.97M568.47 1924.4H584.87M576.67 1924.4V1965.1M568.47 1965.1H584.87M606.36 1945.5H622.76M614.56 1945.5V1993.1M606.36 1993.1H622.76M644.26 1975.5H660.66M652.46 1975.5V2006.3M644.26 2006.3H660.66M682.16 1987.4H698.56M690.36 1987.4V2034.4M682.16 2034.4H698.56M720.05 2005.4H736.45M728.25 2005.4V2048.2M720.05 2048.2H736.45M757.95 2023.8H774.35M766.15 2023.8V2059.5M757.95 2059.5H774.35M795.85 2033.9H812.25M804.05 2033.9V2071.4M795.85 2071.4H812.25M833.74 2044.9H850.14M841.94 2044.9V2087.9M833.74 2087.9H850.14M871.64 2061.7H888.04M879.84 2061.7V2091.6M871.64 2091.6H888.04M909.54 2072.9H925.94M917.74 2072.9V2102.1M909.54 2102.1H925.94M947.43 2081H963.83M955.63 2081V2114.6M947.43 2114.6H963.83M985.33 2087.4H1001.73M993.53 2087.4V2122.3M985.33 2122.3H1001.73M1023.23 2092H1039.63M1031.43 2092V2132.7M1023.23 2132.7H1039.63M1061.12 2103H1077.53M1069.33 2103V2137.5M1061.12 2137.5H1077.53M1099.02 2104.9H1115.42M1107.22 2104.9V2146.1M1099.02 2146.1H1115.42M1136.92 2114H1153.32M1145.12 2114V2141.2M1136.92 2141.2H1153.32M189.5 1587.6H205.9M197.7 1587.6V1631.4M189.5 1631.4H205.9M227.39 1656.9H243.79M235.59 1656.9V1706M227.39 1706H243.79M265.29 1722.5H281.69M273.49 1722.5V1765.6M265.29 1765.6H281.69M303.19 1779.1H319.59M311.39 1779.1V1820.7M303.19 1820.7H319.59M341.08 1831.7H357.48M349.28 1831.7V1866.2M341.08 1866.2H357.48M378.98 1877.9H395.38M387.18 1877.9V1911.4M378.98 1911.4H395.38M416.88 1913.8H433.28M425.08 1913.8V1961.2M416.88 1961.2H433.28M454.78 1953.8H471.18M462.98 1953.8V1997M454.78 1997H471.18M492.67 1987.6H509.07M500.87 1987.6V2029.3M492.67 2029.3H509.07M530.57 2024.7H546.97M538.77 2024.7V2057.7M530.57 2057.7H546.97M568.47 2045.8H584.87M576.67 2045.8V2080.6M568.47 2080.6H584.87M606.36 2058H622.76M614.56 2058V2105M606.36 2105H622.76M644.26 2076H660.66M652.46 2076V2112.3M644.26 2112.3H660.66M682.16 2083.4H698.56M690.36 2083.4V2127M682.16 2127H698.56M720.05 2091.6H736.45M728.25 2091.6V2133.2M720.05 2133.2H736.45M757.95 2103.5H774.35M766.15 2103.5V2138.4M757.95 2138.4H774.35M795.85 2111.8H812.25M804.05 2111.8V2138.7M795.85 2138.7H812.25M189.5 1651H205.9M197.7 1651V1694.1M189.5 1694.1H205.9M227.39 1742.7H243.79M235.59 1742.7V1783M227.39 1783H243.79M265.29 1810.6H281.69M273.49 1810.6V1856.4M265.29 1856.4H281.69M303.19 1871.6H319.59M311.39 1871.6V1916M303.19 1916H319.59M341.08 1925.6H357.48M349.28 1925.6V1968.3M341.08 1968.3H357.48M378.98 1976.9H395.38M387.18 1976.9V2011.6M378.98 2011.6H395.38M416.88 2015.8H433.28M425.08 2015.8V2055.6M416.88 2055.6H433.28M454.78 2047.6H471.18M462.98 2047.6V2090.7M454.78 2090.7H471.18M492.67 2070.5H509.07M500.87 2070.5V2117.8M492.67 2117.8H509.07M530.57 2098.6H546.97M538.77 2098.6V2125.2M530.57 2125.2H546.97M568.47 2107.6H584.87M576.67 2107.6V2143M568.47 2143H584.87M606.36 2113.6H622.76M614.56 2113.6V2148.5M606.36 2148.5H622.76M159.8 1516.8V1563.6M151.6 1563.6H168" fill="none" stroke="#555555" stroke-width="2.8"/><path d="M159.8 1540.2C166.12 1545.22 185.06 1557.78 197.7 1570.3C210.33 1582.82 222.96 1600.62 235.59 1615.3C248.23 1629.98 260.86 1643.88 273.49 1658.4C286.12 1672.92 298.76 1688.5 311.39 1702.4C324.02 1716.3 336.65 1728.45 349.28 1741.8C361.92 1755.15 374.55 1769.82 387.18 1782.5C399.81 1795.18 412.45 1806.03 425.08 1817.9C437.71 1829.77 450.34 1842.33 462.98 1853.7C475.61 1865.07 488.24 1875.78 500.87 1886.1C513.5 1896.42 526.14 1905.8 538.77 1915.6C551.4 1925.4 564.03 1935.88 576.67 1944.9C589.3 1953.92 601.93 1962.05 614.56 1969.7C627.19 1977.35 639.83 1983.93 652.46 1990.8C665.09 1997.67 677.72 2004.95 690.36 2010.9C702.99 2016.85 715.62 2021.3 728.25 2026.5C740.89 2031.7 753.52 2037.82 766.15 2042.1C778.78 2046.38 791.41 2048.07 804.05 2052.2C816.68 2056.33 829.31 2062.78 841.94 2066.9C854.58 2071.02 867.21 2073.4 879.84 2076.9C892.47 2080.4 905.11 2084.4 917.74 2087.9C930.37 2091.4 943 2095.07 955.63 2097.9C968.27 2100.73 980.9 2102.52 993.53 2104.9C1006.16 2107.28 1018.8 2109.62 1031.43 2112.2C1044.06 2114.78 1056.69 2118.12 1069.33 2120.4C1081.96 2122.68 1094.59 2124.67 1107.22 2125.9C1119.85 2127.13 1138.8 2127.48 1145.12 2127.8" fill="none" stroke="#000" stroke-width="2.9" stroke-linejoin="round"/><g fill="#446CB8" stroke="#446CB8" stroke-width="0.8" stroke-linejoin="round"><path d="M159.8 1530.2L170.1 1550.2L149.5 1550.2Z"/><path d="M197.7 1560.3L208 1580.3L187.4 1580.3Z"/><path d="M235.59 1605.3L245.89 1625.3L225.29 1625.3Z"/><path d="M273.49 1648.4L283.79 1668.4L263.19 1668.4Z"/><path d="M311.39 1692.4L321.69 1712.4L301.09 1712.4Z"/><path d="M349.28 1731.8L359.58 1751.8L338.98 1751.8Z"/><path d="M387.18 1772.5L397.48 1792.5L376.88 1792.5Z"/><path d="M425.08 1807.9L435.38 1827.9L414.78 1827.9Z"/><path d="M462.98 1843.7L473.28 1863.7L452.68 1863.7Z"/><path d="M500.87 1876.1L511.17 1896.1L490.57 1896.1Z"/><path d="M538.77 1905.6L549.07 1925.6L528.47 1925.6Z"/><path d="M576.67 1934.9L586.97 1954.9L566.37 1954.9Z"/><path d="M614.56 1959.7L624.86 1979.7L604.26 1979.7Z"/><path d="M652.46 1980.8L662.76 2000.8L642.16 2000.8Z"/><path d="M690.36 2000.9L700.66 2020.9L680.06 2020.9Z"/><path d="M728.25 2016.5L738.55 2036.5L717.95 2036.5Z"/><path d="M766.15 2032.1L776.45 2052.1L755.85 2052.1Z"/><path d="M804.05 2042.2L814.35 2062.2L793.75 2062.2Z"/><path d="M841.94 2056.9L852.24 2076.9L831.64 2076.9Z"/><path d="M879.84 2066.9L890.14 2086.9L869.54 2086.9Z"/><path d="M917.74 2077.9L928.04 2097.9L907.44 2097.9Z"/><path d="M955.63 2087.9L965.93 2107.9L945.33 2107.9Z"/><path d="M993.53 2094.9L1003.83 2114.9L983.23 2114.9Z"/><path d="M1031.43 2102.2L1041.73 2122.2L1021.13 2122.2Z"/><path d="M1069.33 2110.4L1079.62 2130.4L1059.03 2130.4Z"/><path d="M1107.22 2115.9L1117.52 2135.9L1096.92 2135.9Z"/><path d="M1145.12 2117.8L1155.42 2137.8L1134.82 2137.8Z"/></g><path d="M159.8 1540.2C166.12 1552.03 185.06 1587.63 197.7 1611.2C210.33 1634.77 222.96 1659.4 235.59 1681.6C248.23 1703.8 260.86 1724.65 273.49 1744.4C286.12 1764.15 298.76 1782.65 311.39 1800.1C324.02 1817.55 336.65 1833.38 349.28 1849.1C361.92 1864.82 374.55 1879.63 387.18 1894.4C399.81 1909.17 412.45 1924.18 425.08 1937.7C437.71 1951.22 450.34 1963.75 462.98 1975.5C475.61 1987.25 488.24 1997.25 500.87 2008.2C513.5 2019.15 526.14 2032.1 538.77 2041.2C551.4 2050.3 564.03 2056.08 576.67 2062.8C589.3 2069.52 601.93 2076.3 614.56 2081.5C627.19 2086.7 639.83 2090.08 652.46 2094C665.09 2097.92 677.72 2101.88 690.36 2105C702.99 2108.12 715.62 2110.05 728.25 2112.7C740.89 2115.35 753.52 2118.82 766.15 2120.9C778.78 2122.98 797.73 2124.48 804.05 2125.2" fill="none" stroke="#000" stroke-width="2.9" stroke-linejoin="round"/><g fill="#EA7400"><circle cx="159.8" cy="1540.2" r="10.5"/><circle cx="197.7" cy="1611.2" r="10.5"/><circle cx="235.59" cy="1681.6" r="10.5"/><circle cx="273.49" cy="1744.4" r="10.5"/><circle cx="311.39" cy="1800.1" r="10.5"/><circle cx="349.28" cy="1849.1" r="10.5"/><circle cx="387.18" cy="1894.4" r="10.5"/><circle cx="425.08" cy="1937.7" r="10.5"/><circle cx="462.98" cy="1975.5" r="10.5"/><circle cx="500.87" cy="2008.2" r="10.5"/><circle cx="538.77" cy="2041.2" r="10.5"/><circle cx="576.67" cy="2062.8" r="10.5"/><circle cx="614.56" cy="2081.5" r="10.5"/><circle cx="652.46" cy="2094" r="10.5"/><circle cx="690.36" cy="2105" r="10.5"/><circle cx="728.25" cy="2112.7" r="10.5"/><circle cx="766.15" cy="2120.9" r="10.5"/><circle cx="804.05" cy="2125.2" r="10.5"/></g><path d="M159.8 1540.2C166.12 1562.28 185.06 1635.65 197.7 1672.7C210.33 1709.75 222.96 1735.7 235.59 1762.5C248.23 1789.3 260.86 1811.63 273.49 1833.5C286.12 1855.37 298.76 1874.82 311.39 1893.7C324.02 1912.58 336.65 1930 349.28 1946.8C361.92 1963.6 374.55 1979.75 387.18 1994.5C399.81 2009.25 412.45 2022.93 425.08 2035.3C437.71 2047.67 450.34 2059.02 462.98 2068.7C475.61 2078.38 488.24 2086.07 500.87 2093.4C513.5 2100.73 526.14 2107.2 538.77 2112.7C551.4 2118.2 564.03 2123.35 576.67 2126.4C589.3 2129.45 608.25 2130.23 614.56 2131" fill="none" stroke="#000" stroke-width="2.9" stroke-linejoin="round"/><path d="M150.4 1530.8L169.2 1549.6M150.4 1549.6L169.2 1530.8M159.8 1530.6L159.8 1549.8M188.3 1663.3L207.1 1682.1M188.3 1682.1L207.1 1663.3M197.7 1663.1L197.7 1682.3M226.19 1753.1L244.99 1771.9M226.19 1771.9L244.99 1753.1M235.59 1752.9L235.59 1772.1M264.09 1824.1L282.89 1842.9M264.09 1842.9L282.89 1824.1M273.49 1823.9L273.49 1843.1M301.99 1884.3L320.79 1903.1M301.99 1903.1L320.79 1884.3M311.39 1884.1L311.39 1903.3M339.88 1937.4L358.68 1956.2M339.88 1956.2L358.68 1937.4M349.28 1937.2L349.28 1956.4M377.78 1985.1L396.58 2003.9M377.78 2003.9L396.58 1985.1M387.18 1984.9L387.18 2004.1M415.68 2025.9L434.48 2044.7M415.68 2044.7L434.48 2025.9M425.08 2025.7L425.08 2044.9M453.58 2059.3L472.38 2078.1M453.58 2078.1L472.38 2059.3M462.98 2059.1L462.98 2078.3M491.47 2084L510.27 2102.8M491.47 2102.8L510.27 2084M500.87 2083.8L500.87 2103M529.37 2103.3L548.17 2122.1M529.37 2122.1L548.17 2103.3M538.77 2103.1L538.77 2122.3M567.27 2117L586.07 2135.8M567.27 2135.8L586.07 2117M576.67 2116.8L576.67 2136M605.16 2121.6L623.96 2140.4M605.16 2140.4L623.96 2121.6M614.56 2121.4L614.56 2140.6" fill="none" stroke="#A5A5A5" stroke-width="2.85"/><path d="M1068.4 1601.9H1140" stroke="#000" stroke-width="2.9"/><g fill="#446CB8" stroke="#446CB8" stroke-width="0.8" stroke-linejoin="round"><path d="M1103.8 1591.9L1114.1 1611.9L1093.5 1611.9Z"/></g><path d="M1068.4 1658.8H1140" stroke="#000" stroke-width="2.9"/><g fill="#EA7400"><circle cx="1103.8" cy="1658.8" r="10.5"/></g><path d="M1068.4 1715.4H1140" stroke="#000" stroke-width="2.9"/><path d="M1094.4 1706L1113.2 1724.8M1094.4 1724.8L1113.2 1706M1103.8 1705.8L1103.8 1725" fill="none" stroke="#A5A5A5" stroke-width="2.85"/></svg></body></html>
